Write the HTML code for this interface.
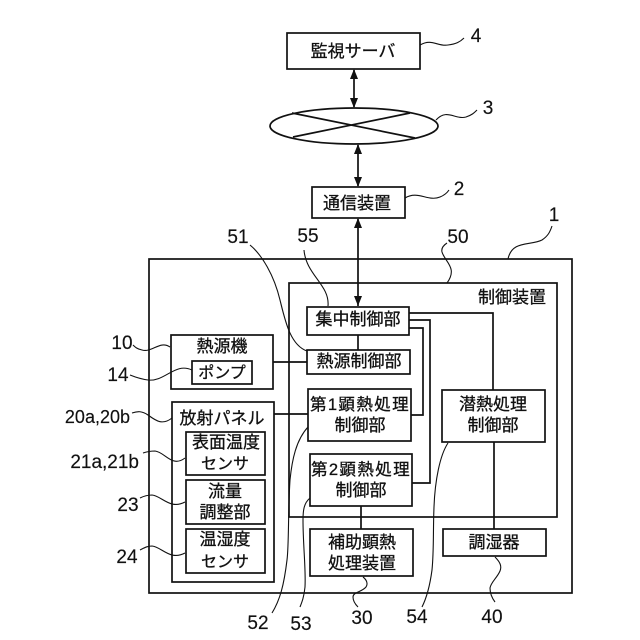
<!DOCTYPE html>
<html><head><meta charset="utf-8"><style>
html,body{margin:0;padding:0;background:#fff}
svg{display:block}
text{font-family:"Liberation Sans","Noto Sans CJK JP",sans-serif;font-size:17px;fill:#111;stroke:#111;stroke-width:.3;text-anchor:middle}
.n{font-size:19px;stroke-width:.15}
.s{fill:none;stroke:#111;stroke-width:1.7}
.t{fill:none;stroke:#111;stroke-width:1.1}
</style></head><body>
<svg width="640" height="640" viewBox="0 0 640 640" xmlns="http://www.w3.org/2000/svg">
<g class="s">
<rect x="287" y="33" width="133" height="36"/>
<ellipse cx="354" cy="126" rx="84" ry="18"/>
<path d="M292 113L415 138M293 137L410 113"/>
<rect x="312" y="187" width="93" height="31"/>
<rect x="149" y="259" width="423" height="334"/>
<rect x="289" y="283" width="268" height="234"/>
<path d="M354 70V107M358 145V186M358 219V306"/>
<path d="M358 335V350M273 362H307M274 414H308M361 506V529"/>
<path d="M409 313H493V390M494 442V529M409 320H430V483H412M409 328H423V415H411"/>
<rect x="307" y="307" width="102" height="28" fill="#fff"/>
<rect x="307" y="350" width="103" height="24" fill="#fff"/>
<rect x="308" y="389" width="103" height="52" fill="#fff"/>
<rect x="310" y="454" width="102" height="52" fill="#fff"/>
<rect x="310" y="529" width="103" height="47" fill="#fff"/>
<rect x="442" y="390" width="103" height="52" fill="#fff"/>
<rect x="443" y="529" width="103" height="27" fill="#fff"/>
<rect x="171" y="335" width="102" height="54" fill="#fff"/>
<rect x="192" y="361" width="60" height="23"/>
<rect x="172" y="402" width="102" height="180" fill="#fff"/>
<rect x="186" y="432" width="79" height="43"/>
<rect x="186" y="480" width="79" height="44"/>
<rect x="186" y="529" width="79" height="44"/>
</g>
<g fill="#111">
<path d="M354 69L350 79H358Z"/><path d="M354 108L350 98H358Z"/>
<path d="M358 144L354 154H362Z"/><path d="M358 187L354 177H362Z"/>
<path d="M358 218L354 228H362Z"/><path d="M358 306L354 296H362Z"/>
</g>
<g class="t">
<path d="M420 45C432 38 438 47 448 45C456 44 460 42 464 38"/>
<path d="M436 120C447 108 455 120 466 117C472 115 474 113 477 110"/>
<path d="M405 198C418 190 428 202 440 197C445 195 447 193 449 190"/>
<path d="M508 259C512 240 530 246 542 240C548 236 550 232 552 226"/>
<path d="M447 283C458 268 445 262 442 252C441 248 444 245 447 243"/>
<path d="M328 306C330 285 306 275 304 250"/>
<path d="M307 351C290 345 285 320 280 300C274 275 262 255 250 245"/>
<path d="M170 347C160 340 152 353 142 350C137 349 135 347 133 345"/>
<path d="M192 370C175 362 165 382 148 380C140 379 135 377 130 375"/>
<path d="M172 418C162 426 155 420 148 415C142 411 138 411 132 413"/>
<path d="M185 458C172 468 165 452 155 451C150 451 146 452 143 453"/>
<path d="M185 502C170 510 162 496 152 495C147 495 144 496 140 498"/>
<path d="M185 553C170 561 162 547 152 546C147 546 144 548 140 550"/>
<path d="M308 427C296 440 292 460 290 480C288 510 289 545 287 560C284 585 280 600 272 613"/>
<path d="M310 498C304 503 303 510 303 520C303 545 306 570 305 587C304 597 302 602 300 607"/>
<path d="M448 443C440 455 435 480 434 507C433 530 434 550 432 570C430 585 427 597 422 607"/>
<path d="M495 557C500 562 502 566 500 571C497 578 491 582 490 588C490 594 492 598 495 602"/>
<path d="M363 577C367 580 368 584 366 587C362 592 353 592 353 597C353 601 355 604 358 607"/>
</g>
<text x="353" y="57">監視サーバ</text>
<text x="357" y="209">通信装置</text>
<text x="512" y="303">制御装置</text>
<text x="358" y="325">集中制御部</text>
<text x="359" y="367">熱源制御部</text>
<text x="360" y="410" style="font-size:16.500px;letter-spacing:1.400px">第1顕熱処理</text>
<text x="360" y="431">制御部</text>
<text x="361" y="475" style="font-size:16.500px;letter-spacing:1.400px">第2顕熱処理</text>
<text x="361" y="496">制御部</text>
<text x="362" y="548">補助顕熱</text>
<text x="362" y="569">処理装置</text>
<text x="493" y="410">潜熱処理</text>
<text x="493" y="431">制御部</text>
<text x="494" y="548">調湿器</text>
<text x="222" y="352">熱源機</text>
<text x="222" y="378" style="font-size:16px">ポンプ</text>
<text x="222" y="424">放射パネル</text>
<text x="226" y="448">表面温度</text>
<text x="225" y="469" style="font-size:16px">センサ</text>
<text x="225" y="497">流量</text>
<text x="225" y="518">調整部</text>
<text x="225" y="545">温湿度</text>
<text x="225" y="567" style="font-size:16px">センサ</text>
<text class="n" x="476" y="42">4</text>
<text class="n" x="488" y="114">3</text>
<text class="n" x="459" y="195">2</text>
<text class="n" x="554" y="221">1</text>
<text class="n" x="458" y="243">50</text>
<text class="n" x="308" y="242">55</text>
<text class="n" x="238" y="243">51</text>
<text class="n" x="122" y="349">10</text>
<text class="n" x="118" y="381">14</text>
<text class="n" x="130" y="423" style="text-anchor:end;font-size:18px">20a,20b</text>
<text class="n" x="139" y="468" style="text-anchor:end">21a,21b</text>
<text class="n" x="128" y="511">23</text>
<text class="n" x="127" y="563">24</text>
<text class="n" x="258" y="629">52</text>
<text class="n" x="301" y="630">53</text>
<text class="n" x="362" y="624">30</text>
<text class="n" x="417" y="623">54</text>
<text class="n" x="492" y="623">40</text>
</svg>
</body></html>
